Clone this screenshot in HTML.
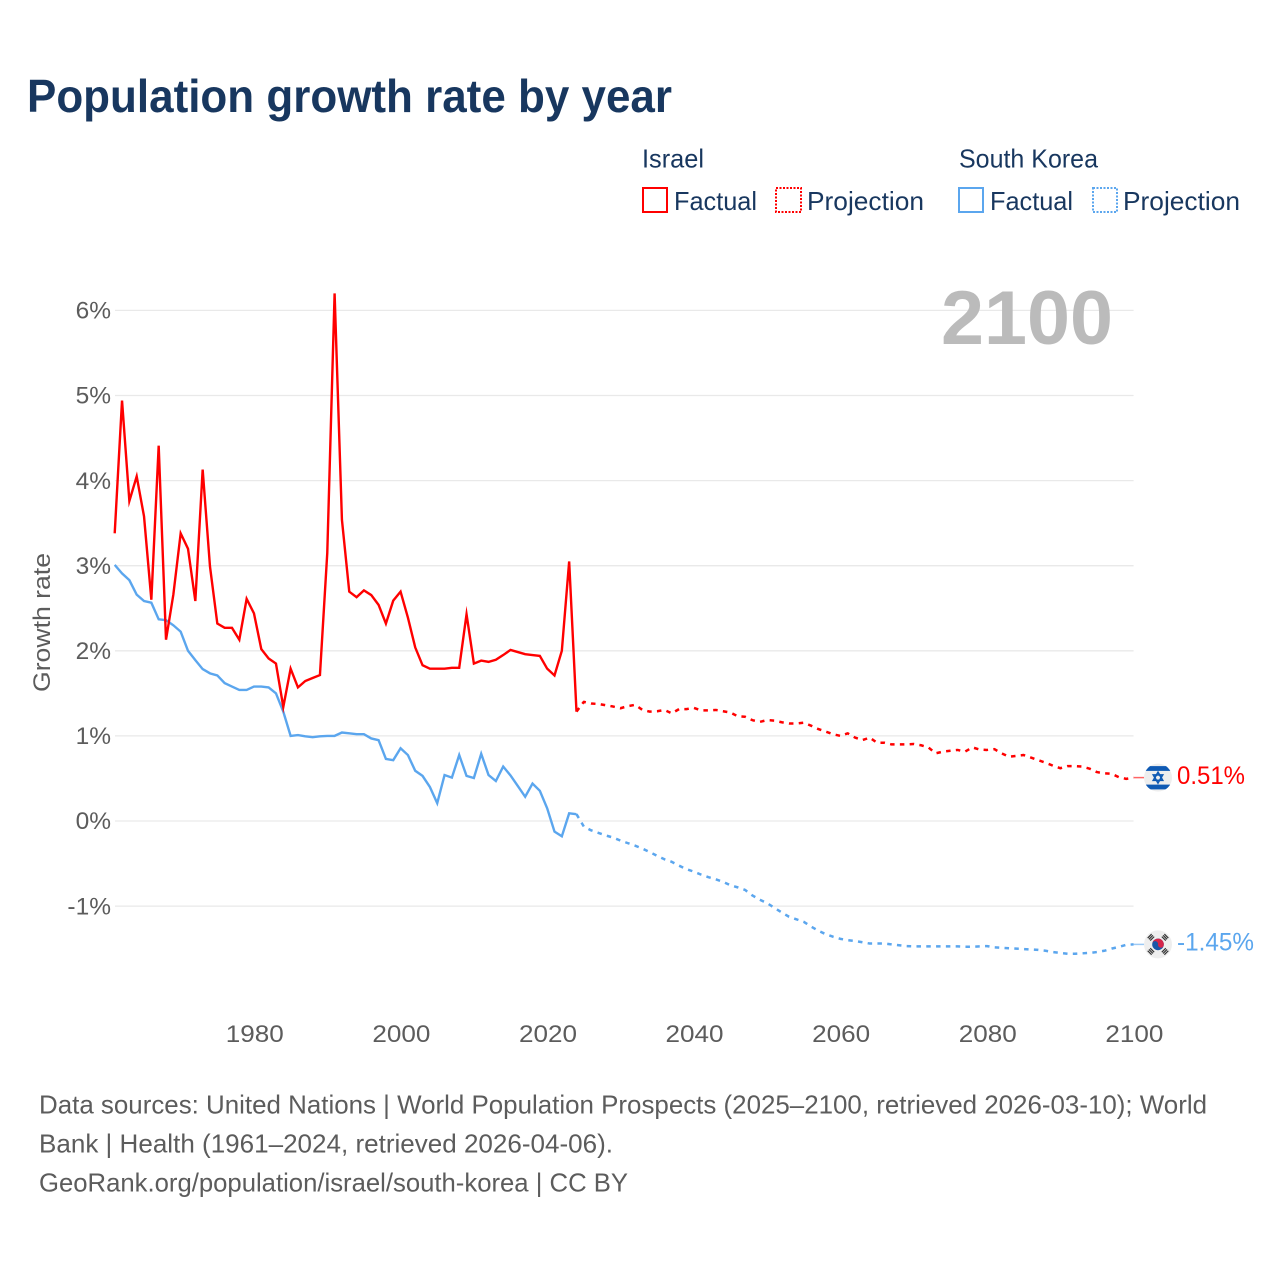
<!DOCTYPE html>
<html lang="en">
<head>
<meta charset="utf-8">
<title>Population growth rate by year</title>
<style>
html,body{margin:0;padding:0;background:#fff;}
svg{display:block;}
text{font-family:"Liberation Sans",sans-serif;}
</style>
</head>
<body>
<svg id="chart" xmlns="http://www.w3.org/2000/svg" width="1280" height="1280" viewBox="0 0 1280 1280">
  <rect width="1280" height="1280" fill="#fff"/>
  <text x="27" y="112" font-size="46" font-weight="700" fill="#18375f" textLength="645" lengthAdjust="spacingAndGlyphs">Population growth rate by year</text>

  <g font-size="26" fill="#18375f">
    <text x="642" y="167.5" textLength="62" lengthAdjust="spacingAndGlyphs">Israel</text>
    <text x="959" y="167.5" textLength="139" lengthAdjust="spacingAndGlyphs">South Korea</text>
    <g>
      <rect x="643" y="188" width="24" height="24" fill="none" stroke="#ff0000" stroke-width="2"/>
      <text x="674" y="210" textLength="83" lengthAdjust="spacingAndGlyphs">Factual</text>
    </g>
    <g>
      <rect x="776" y="188" width="25" height="24" fill="none" stroke="#ff0000" stroke-width="2" stroke-dasharray="2 1.5"/>
      <text x="807" y="210" textLength="117" lengthAdjust="spacingAndGlyphs">Projection</text>
    </g>
    <g>
      <rect x="959" y="188" width="24" height="24" fill="none" stroke="#5ba6ee" stroke-width="2"/>
      <text x="990" y="210" textLength="83" lengthAdjust="spacingAndGlyphs">Factual</text>
    </g>
    <g>
      <rect x="1093" y="188" width="24" height="24" fill="none" stroke="#5ba6ee" stroke-width="2" stroke-dasharray="2 1.5"/>
      <text x="1123" y="210" textLength="117" lengthAdjust="spacingAndGlyphs">Projection</text>
    </g>
  </g>

  <g id="grid"></g>
  <g id="yTicksG" font-size="24.5" fill="#5c5c5c"></g>
  <g id="xTicksG" font-size="24.5" fill="#5c5c5c"></g>
  <text transform="translate(50,622.5) rotate(-90)" text-anchor="middle" font-size="24.5" fill="#5c5c5c" textLength="139" lengthAdjust="spacingAndGlyphs">Growth rate</text>
  <text x="941" y="344" font-size="76" font-weight="700" fill="#bbbbbb" textLength="172" lengthAdjust="spacingAndGlyphs">2100</text>

  <g id="series"></g>
  <g id="endMarks"></g>

  <g font-size="26" fill="#5c5c5c">
    <text x="39" y="1113.5" textLength="1168" lengthAdjust="spacingAndGlyphs">Data sources: United Nations | World Population Prospects (2025–2100, retrieved 2026-03-10); World</text>
    <text x="39" y="1152.5" textLength="574" lengthAdjust="spacingAndGlyphs">Bank | Health (1961–2024, retrieved 2026-04-06).</text>
    <text x="39" y="1191.5" textLength="589" lengthAdjust="spacingAndGlyphs">GeoRank.org/population/israel/south-korea | CC BY</text>
  </g>
</svg>
<script>
const years = [1961,1962,1963,1964,1965,1966,1967,1968,1969,1970,1971,1972,1973,1974,1975,1976,1977,1978,1979,1980,1981,1982,1983,1984,1985,1986,1987,1988,1989,1990,1991,1992,1993,1994,1995,1996,1997,1998,1999,2000,2001,2002,2003,2004,2005,2006,2007,2008,2009,2010,2011,2012,2013,2014,2015,2016,2017,2018,2019,2020,2021,2022,2023,2024,2025,2026,2027,2028,2029,2030,2031,2032,2033,2034,2035,2036,2037,2038,2039,2040,2041,2042,2043,2044,2045,2046,2047,2048,2049,2050,2051,2052,2053,2054,2055,2056,2057,2058,2059,2060,2061,2062,2063,2064,2065,2066,2067,2068,2069,2070,2071,2072,2073,2074,2075,2076,2077,2078,2079,2080,2081,2082,2083,2084,2085,2086,2087,2088,2089,2090,2091,2092,2093,2094,2095,2096,2097,2098,2099,2100];
const israelFactual = [3.38,4.94,3.76,4.05,3.58,2.60,4.41,2.13,2.66,3.38,3.20,2.585,4.13,2.99,2.32,2.27,2.27,2.13,2.61,2.44,2.02,1.91,1.85,1.34,1.79,1.57,1.645,1.68,1.715,3.15,6.20,3.54,2.695,2.63,2.71,2.655,2.54,2.32,2.59,2.695,2.39,2.04,1.83,1.79,1.79,1.79,1.80,1.80,2.43,1.85,1.885,1.87,1.895,1.95,2.01,1.985,1.96,1.95,1.94,1.79,1.71,2.00,3.05,1.285];
const israelProjection = [1.40,1.38,1.375,1.36,1.345,1.325,1.35,1.365,1.305,1.285,1.29,1.305,1.265,1.315,1.315,1.33,1.30,1.30,1.305,1.29,1.275,1.23,1.225,1.185,1.165,1.185,1.18,1.16,1.145,1.145,1.155,1.12,1.08,1.05,1.02,1.00,1.03,0.98,0.95,0.98,0.92,0.92,0.90,0.90,0.90,0.905,0.89,0.865,0.795,0.815,0.825,0.835,0.815,0.865,0.84,0.835,0.845,0.795,0.755,0.765,0.775,0.745,0.715,0.685,0.65,0.62,0.645,0.645,0.64,0.615,0.575,0.56,0.555,0.515,0.495,0.51];
const koreaFactual = [3.01,2.91,2.83,2.66,2.585,2.565,2.37,2.36,2.30,2.225,2.00,1.89,1.785,1.735,1.71,1.62,1.58,1.54,1.54,1.58,1.58,1.57,1.50,1.285,1.00,1.01,0.995,0.985,0.995,1.00,1.00,1.04,1.03,1.02,1.02,0.97,0.95,0.73,0.715,0.855,0.775,0.59,0.53,0.40,0.21,0.54,0.51,0.775,0.53,0.505,0.79,0.54,0.47,0.64,0.535,0.41,0.285,0.44,0.355,0.15,-0.125,-0.18,0.09,0.08];
const koreaProjection = [-0.065,-0.11,-0.14,-0.17,-0.195,-0.23,-0.26,-0.29,-0.325,-0.365,-0.41,-0.45,-0.48,-0.525,-0.565,-0.595,-0.63,-0.66,-0.685,-0.715,-0.755,-0.78,-0.81,-0.875,-0.925,-0.965,-1.02,-1.075,-1.125,-1.155,-1.185,-1.24,-1.29,-1.33,-1.36,-1.385,-1.40,-1.41,-1.425,-1.44,-1.44,-1.44,-1.45,-1.46,-1.47,-1.473,-1.473,-1.473,-1.473,-1.473,-1.473,-1.473,-1.478,-1.478,-1.473,-1.47,-1.485,-1.49,-1.495,-1.50,-1.505,-1.51,-1.515,-1.525,-1.54,-1.55,-1.56,-1.56,-1.555,-1.55,-1.54,-1.525,-1.50,-1.48,-1.455,-1.45];
const yTickValues = [-1,0,1,2,3,4,5,6];
const yTickLabels = ["-1%","0%","1%","2%","3%","4%","5%","6%"];
const xTickValues = [1980,2000,2020,2040,2060,2080,2100];
const xTickLabels = ["1980","2000","2020","2040","2060","2080","2100"];
const endValueLabels = ["0.51%","-1.45%"];

const NS = 'http://www.w3.org/2000/svg';
function xScale(year){ return 114.7 + (year - 1961) * 7.33; }
function yScale(value){ return 821 - value * 85.1; }
function make(tag, attrs, parent){
  const el = document.createElementNS(NS, tag);
  for (const k in attrs) el.setAttribute(k, attrs[k]);
  parent.appendChild(el);
  return el;
}
function linePath(yrs, vals){
  return vals.map((v, i) => (i ? 'L' : 'M') + xScale(yrs[i]).toFixed(2) + ' ' + yScale(v).toFixed(2)).join('');
}

const gridG = document.getElementById('grid');
const yG = document.getElementById('yTicksG');
yTickValues.forEach((v, i) => {
  const ln = make('line', {x1: 115, x2: xScale(2100), y1: yScale(v), y2: yScale(v), stroke: '#e9e9e9', 'stroke-width': 1.3}, gridG);
  
  
  const t = make('text', {x: 111, y: yScale(v) + 8.2, 'text-anchor': 'end'}, yG);
  
  
  t.textContent = yTickLabels[i];
});

const xG = document.getElementById('xTicksG');
xTickValues.forEach((v, i) => {
  const t = make('text', {x: xScale(v) + 0.8, y: 1042, 'text-anchor': 'middle', textLength: 58, lengthAdjust: 'spacingAndGlyphs'}, xG);
  
  
  t.textContent = xTickLabels[i];
});

const seriesG = document.getElementById('series');
const factualCount = israelFactual.length;
const projectionYears = years.slice(factualCount - 1);
const factualYears = years.slice(0, factualCount);
function drawProjection(vals, factual, color, name){
  const p = make('path', {d: linePath(projectionYears, [factual[factual.length - 1]].concat(vals)), fill: 'none', stroke: color, 'stroke-width': 2.5, 'stroke-dasharray': '4.5 5.3', 'stroke-linejoin': 'round'}, seriesG);
  
  
}
function drawFactual(vals, color, name){
  const p = make('path', {d: linePath(factualYears, vals), fill: 'none', stroke: color, 'stroke-width': 2.4, 'stroke-linejoin': 'miter', 'stroke-miterlimit': 10}, seriesG);
  
  
}
drawFactual(koreaFactual, '#5ba6ee', 'line-south-korea-factual');
drawProjection(koreaProjection, koreaFactual, '#5ba6ee', 'line-south-korea-projection');
drawFactual(israelFactual, '#ff0000', 'line-israel-factual');
drawProjection(israelProjection, israelFactual, '#ff0000', 'line-israel-projection');

const endG = document.getElementById('endMarks');
const cx = 1158;
const ilY = yScale(israelProjection[israelProjection.length - 1]);
const krY = yScale(koreaProjection[koreaProjection.length - 1]);

function connector(y, color, name){
  const c = make('line', {x1: xScale(2100), x2: 1144, y1: y, y2: y, stroke: color, 'stroke-width': 1.5, opacity: 0.6}, endG);
  
  
}
connector(ilY, '#ff0000', 'connector-israel');
connector(krY, '#5ba6ee', 'connector-south-korea');

/* Israel flag */
const il = make('g', {transform: 'translate(' + cx + ',' + ilY + ')'}, endG);


const defs = make('defs', {}, endG);
const clip = make('clipPath', {id: 'flagClip'}, defs);
make('circle', {cx: 0, cy: 0, r: 14}, clip);
make('circle', {cx: 0, cy: 0, r: 14, fill: '#eeeeee'}, il);
make('rect', {x: -14, y: -11.5, width: 28, height: 4.8, fill: '#0f5ab4', 'clip-path': 'url(#flagClip)'}, il);
make('rect', {x: -14, y: 7, width: 28, height: 4.8, fill: '#0f5ab4', 'clip-path': 'url(#flagClip)'}, il);
make('polygon', {points: '0,-5.4 4.7,2.7 -4.7,2.7', fill: 'none', stroke: '#0f5ab4', 'stroke-width': 1.6}, il);
make('polygon', {points: '0,5.4 4.7,-2.7 -4.7,-2.7', fill: 'none', stroke: '#0f5ab4', 'stroke-width': 1.6}, il);

/* South Korea flag */
const kr = make('g', {transform: 'translate(' + cx + ',' + krY + ')'}, endG);


make('circle', {cx: 0, cy: 0, r: 14, fill: '#eeeeee'}, kr);
const tg = make('g', {transform: 'rotate(8)'}, kr);
make('circle', {cx: 0, cy: 0, r: 5.8, fill: '#1957a8'}, tg);
make('path', {d: 'M-5.8 0A5.8 5.8 0 0 1 5.8 0A2.9 2.9 0 0 1 0 0A2.9 2.9 0 0 0 -5.8 0Z', fill: '#d5254a'}, tg);
[45, 135, 225, 315].forEach(a => {
  const bars = make('g', {transform: 'rotate(' + a + ') translate(0,-10)'}, kr);
  [-1.8, 0, 1.8].forEach(o => make('rect', {x: -2.8, y: o - 0.6, width: 5.6, height: 1.2, fill: '#333'}, bars));
});

function endLabel(text, y, color, width, name){
  const t = make('text', {x: 1177, y: y + 7, 'font-size': 25, fill: color, textLength: width, lengthAdjust: 'spacingAndGlyphs'}, endG);
  
  
  t.textContent = text;
}
endLabel(endValueLabels[0], ilY - 0.5, '#ff0000', 68, 'value-label-israel');
endLabel(endValueLabels[1], krY - 1, '#5ba6ee', 77, 'value-label-south-korea');
</script>
</body>
</html>
